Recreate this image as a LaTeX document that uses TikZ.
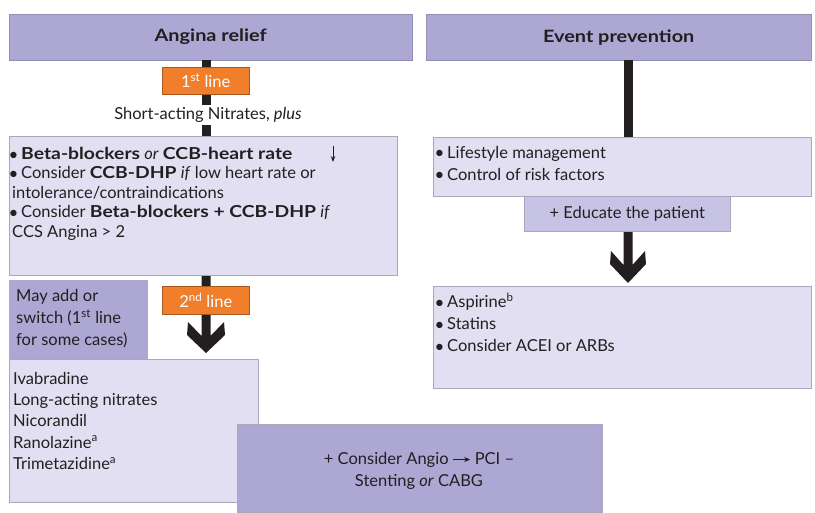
\documentclass[tikz,border=0pt]{standalone}
\usepackage{fontspec}
\setmainfont{Lato}[BoldFeatures={FakeStretch=1.17}]
\usetikzlibrary{arrows.meta}
\definecolor{hdr}{HTML}{ADA7D4}
\definecolor{lite}{HTML}{E1DFF1}
\definecolor{mid}{HTML}{C7C3E5}
\definecolor{org}{HTML}{F07E2B}
\definecolor{ink}{HTML}{231F20}
\definecolor{edge}{HTML}{A9A7BC}
\newcommand{\bul}{\makebox[10pt][l]{\hspace*{-2.5pt}\raisebox{-0.6pt}{\fontsize{17}{20}\selectfont\textbullet}}}
\newcommand{\ind}{\hspace*{1pt}}
\begin{document}
\begin{tikzpicture}[x=1pt,y=-1pt,
  every node/.style={text=ink, inner sep=0pt},
  hbox/.style={fill=hdr, draw=hdr!85!black, line width=0.4pt, anchor=north west},
  lbox/.style={fill=lite, draw=edge, line width=0.6pt, anchor=north west},
  mbox/.style={fill=mid, draw=edge, line width=0.6pt, anchor=north west},
  obox/.style={fill=org, draw=org!70!black, line width=0.5pt, anchor=north west},
  otxt/.style={text=white, font=\fontsize{16.5}{18}\selectfont},
  txt/.style={anchor=north west, align=left, font=\fontsize{16.5}{19.5}\selectfont},
  hdrtxt/.style={font=\bfseries\fontsize{17}{20}\selectfont},
  bar/.style={fill=ink, draw=none}
]
\useasboundingbox (0,0) rectangle (815,513);

% ---------- left column ----------
\node[hbox, minimum width=403, minimum height=46] (h1) at (9,14) {};
\node[hdrtxt] (h1t) at (h1.center) {Angina relief};

% connector bars (left)
\fill[bar] (201.5,60) rectangle (210.5,137);
\fill[bar] (201.5,275) -- (201.5,336) -- (188,322) -- (187,335) -- (206,353)
  -- (225,335) -- (224,322) -- (210.5,336) -- (210.5,275) -- cycle;

\node[obox, minimum width=87, minimum height=27] (l1) at (162,67) {};
\node[otxt] (l1t) at (l1.center) {1\textsuperscript{st} line};

\node[fill=white, inner xsep=3pt, inner ysep=2pt, font=\fontsize{16.5}{18}\selectfont] (sa) at (208,115) {Short-acting Nitrates, \textit{plus}};

\node[lbox, minimum width=388, minimum height=139] (b1) at (9,136) {};
\node[txt] (b1t) at (11,147) {\bul\textbf{Beta-blockers} \textit{or} \textbf{CCB-heart rate}\\
\bul Consider \textbf{CCB-DHP} \textit{if} low heart rate or\\
\ind intolerance/contraindications\\
\bul Consider \textbf{Beta-blockers + CCB-DHP} \textit{if}\\
\ind CCS Angina {>} 2};
\coordinate (dna) at (333,146);
\coordinate (dnb) at (333,162);
\draw[ink, line width=0.9pt, -{Stealth[length=6pt,width=4.5pt]}] (dna) -- (dnb);

\node[obox, minimum width=87, minimum height=28] (l2) at (162,286) {};
\node[otxt] (l2t) at (l2.center) {2\textsuperscript{nd} line};

\node[hbox, draw=none, minimum width=139, minimum height=79] (ma) at (9,280) {};
\node[txt, font=\fontsize{16.5}{22}\selectfont] (mat) at (16,289) {May add or\\switch (1\textsuperscript{st} line\\for some cases)};

\node[lbox, minimum width=249, minimum height=143] (b2) at (9,359) {};
\node[txt, font=\fontsize{16.5}{21.3}\selectfont] (b2t) at (13,372) {Ivabradine\\Long-acting nitrates\\Nicorandil\\Ranolazine\textsuperscript{a}\\Trimetazidine\textsuperscript{a}};

\node[hbox, draw=edge, minimum width=365, minimum height=88] (ang) at (237,424) {};
\node[align=center, font=\fontsize{16.5}{22}\selectfont] (angt) at (419,471) {+ Consider Angio \tikz[baseline=-0.6ex]\draw[ink, line width=0.7pt, -{Stealth[length=6pt,width=5pt]}] (0,0) -- (17pt,0); PCI –\\Stenting \textit{or} CABG};

% ---------- right column ----------
\node[hbox, minimum width=385, minimum height=46] (h2) at (426,14) {};
\node[hdrtxt] (h2t) at (h2.center) {Event prevention};

\fill[bar] (623.5,60) rectangle (632.5,137);
\fill[bar] (623.5,231) -- (623.5,265) -- (611,251) -- (610,264) -- (628,283)
  -- (646,264) -- (645,251) -- (632.5,265) -- (632.5,231) -- cycle;

\node[lbox, minimum width=378, minimum height=59] (ls) at (433,137) {};
\node[txt, font=\fontsize{16.5}{22}\selectfont] (lst) at (437,146) {\bul Lifestyle management\\\bul Control of risk factors};

\node[mbox, minimum width=206, minimum height=35] (ed) at (524,196) {};
\node[font=\fontsize{16.5}{18}\selectfont] (edt) at (ed.center) {+ Educate the patient};

\node[lbox, minimum width=378, minimum height=102] (as) at (433,286) {};
\node[txt, font=\fontsize{16.5}{22}\selectfont] (ast) at (437,293) {\bul Aspirine\textsuperscript{b}\\\bul Statins\\\bul Consider ACEI or ARBs};
\end{tikzpicture}
\end{document}
